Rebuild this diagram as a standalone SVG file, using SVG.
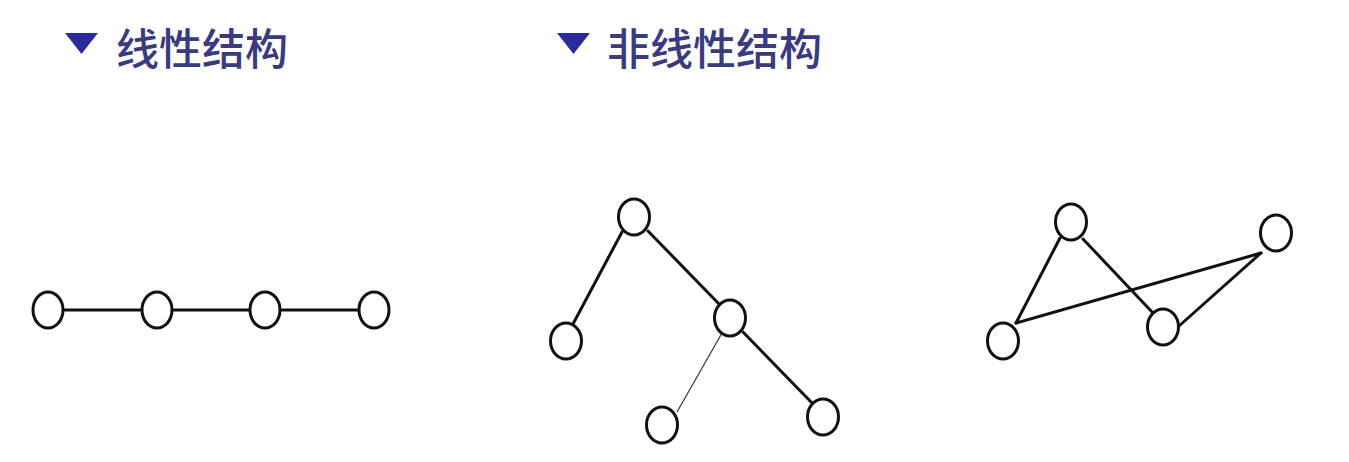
<svg xmlns="http://www.w3.org/2000/svg" width="1349" height="462" viewBox="0 0 1349 462">
<style>
.title{font-family:"Noto Sans CJK SC","Noto Sans",sans-serif;font-size:43px;font-weight:500;fill:#3a3a7e}
.tri{fill:#2b2b9c}
.node{fill:#ffffff;stroke:#111111;stroke-width:3}
.edge{stroke:#111111;stroke-width:3;fill:none;stroke-linecap:round}
.thin{stroke:#333333;stroke-width:1.2;fill:none}
</style>
<rect width="1349" height="462" fill="#ffffff"/>
<g id="title-linear">
<polygon class="tri" points="65,33 98,33 81.5,54"/>
<text class="title" x="116" y="65">线性结构</text>
</g>
<g id="title-nonlinear">
<polygon class="tri" points="557,33 590,33 573.5,54"/>
<text class="title" x="607" y="65">非线性结构</text>
</g>
<g id="connectors">
<line class="edge" x1="48" y1="310" x2="374" y2="310"/>
<line class="edge" x1="622" y1="232" x2="573" y2="324"/>
<line class="edge" x1="648" y1="231" x2="720" y2="305"/>
<line class="thin" x1="722" y1="333" x2="677" y2="412"/>
<line class="edge" x1="743" y1="332" x2="813" y2="404"/>
<line class="edge" x1="1060" y1="238" x2="1016" y2="323"/>
<line class="edge" x1="1083" y1="239" x2="1153" y2="313"/>
<line class="edge" x1="1016" y1="323" x2="1261" y2="253"/>
<line class="edge" x1="1179" y1="326" x2="1261" y2="253"/>
</g>
<g id="l1"><ellipse class="node" cx="48" cy="310" rx="15" ry="18"/></g>
<g id="l2"><ellipse class="node" cx="157" cy="310" rx="15" ry="18"/></g>
<g id="l3"><ellipse class="node" cx="265" cy="310" rx="15" ry="18"/></g>
<g id="l4"><ellipse class="node" cx="374" cy="310" rx="15" ry="18"/></g>
<g id="t1"><ellipse class="node" cx="634" cy="217" rx="15.5" ry="18"/></g>
<g id="t2"><ellipse class="node" cx="566" cy="341" rx="15.5" ry="18"/></g>
<g id="t3"><ellipse class="node" cx="730" cy="318" rx="15.5" ry="18"/></g>
<g id="t4"><ellipse class="node" cx="662" cy="425" rx="15.5" ry="18"/></g>
<g id="t5"><ellipse class="node" cx="823" cy="417" rx="15.5" ry="18"/></g>
<g id="g1"><ellipse class="node" cx="1071" cy="222" rx="15.5" ry="18"/></g>
<g id="g2"><ellipse class="node" cx="1276" cy="233" rx="15.5" ry="18"/></g>
<g id="g3"><ellipse class="node" cx="1003" cy="341" rx="15.5" ry="18"/></g>
<g id="g4"><ellipse class="node" cx="1163" cy="327" rx="15.5" ry="18"/></g>
</svg>
